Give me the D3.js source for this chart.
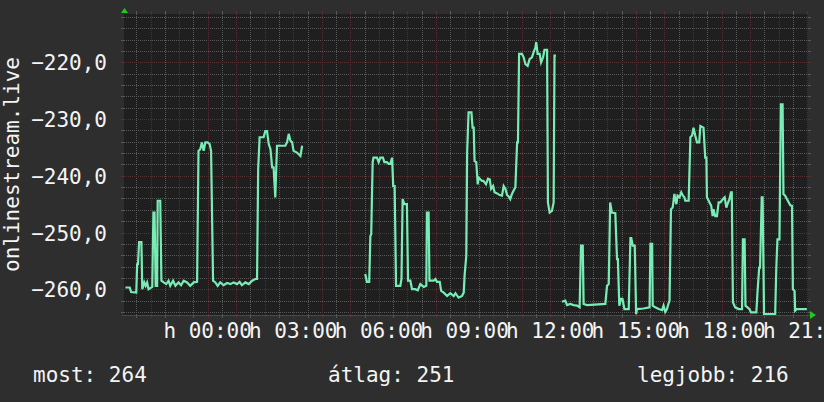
<!DOCTYPE html>
<html>
<head>
<meta charset="utf-8">
<script src="https://cdn.jsdelivr.net/npm/d3@7"></script>
<style>
  html, body { margin: 0; padding: 0; background: #2e2e2e; }
  svg { display: block; }
  text { font-family: "DejaVu Sans Mono", monospace; fill: #f4f4f4; }
</style>
</head>
<body>
<div id="chart"></div>
<script>
"use strict";

// hours relative to midnight (negative = previous day), values as drawn
const seg1 = [
  [-2.88,-259.7],[-2.73,-259.7],[-2.68,-260.5],[-2.50,-260.6],[-2.47,-255.6],[-2.44,-255.6],
  [-2.40,-251.7],[-2.32,-251.7],[-2.29,-260.0],[-2.22,-258.8],[-2.17,-259.4],[-2.12,-258.8],
  [-2.07,-260.0],[-1.94,-259.6],[-1.90,-246.5],[-1.86,-246.5],[-1.82,-259.4],[-1.77,-259.4],
  [-1.75,-244.4],[-1.66,-244.4],[-1.62,-258.5],[-1.54,-258.8],[-1.45,-259.1],[-1.37,-258.5],
  [-1.31,-259.4],[-1.21,-258.5],[-1.13,-259.4],[-1.02,-258.8],[-0.93,-259.3],[-0.84,-258.5],
  [-0.72,-258.8],[-0.61,-259.4],[-0.49,-258.8],[-0.37,-258.7],[-0.32,-235.6],[-0.26,-235.3],
  [-0.20,-234.1],[-0.14,-235.6],[-0.08,-234.1],[0.00,-234.1],[0.07,-234.4],[0.12,-235.6],
  [0.19,-258.5],[0.27,-258.8],[0.35,-259.4],[0.44,-258.8],[0.56,-259.3],[0.68,-258.9],
  [0.80,-259.1],[0.91,-258.8],[1.03,-259.1],[1.12,-258.7],[1.20,-259.3],[1.32,-258.8],
  [1.44,-259.1],[1.56,-258.5],[1.67,-258.2],[1.73,-258.2],[1.77,-238.8],[1.82,-233.2],
  [1.96,-233.2],[2.02,-232.1],[2.08,-232.1],[2.14,-234.4],[2.20,-235.3],[2.26,-238.5],
  [2.31,-238.5],[2.37,-243.8],[2.43,-234.7],[2.72,-234.7],[2.78,-234.1],[2.84,-232.6],
  [2.90,-233.8],[2.96,-234.1],[3.01,-235.6],[3.13,-235.9],[3.25,-236.5],[3.31,-234.7]
];

const seg2 = [
  [5.52,-257.3],[5.58,-258.7],[5.66,-258.7],[5.70,-250.6],[5.73,-250.3],[5.78,-237.6],
  [5.81,-236.8],[5.93,-236.8],[5.99,-237.6],[6.05,-236.8],[6.14,-236.8],[6.19,-237.6],
  [6.28,-237.6],[6.34,-237.9],[6.40,-237.9],[6.46,-236.8],[6.50,-241.8],[6.55,-241.8],
  [6.60,-259.4],[6.75,-259.4],[6.79,-258.2],[6.83,-244.1],[6.89,-245.0],[6.98,-245.0],
  [7.02,-258.5],[7.10,-258.5],[7.16,-260.0],[7.27,-260.0],[7.36,-260.2],[7.45,-259.1],
  [7.57,-259.6],[7.66,-259.4],[7.68,-246.5],[7.74,-246.5],[7.77,-258.5],[7.92,-258.5],
  [7.98,-258.2],[8.03,-258.7],[8.13,-258.7],[8.18,-260.3],[8.27,-260.6],[8.39,-261.2],
  [8.50,-260.7],[8.62,-261.2],[8.68,-260.7],[8.79,-261.5],[8.91,-261.2],[8.97,-260.6],
  [9.00,-257.6],[9.06,-254.1],[9.09,-235.9],[9.14,-228.8],[9.24,-228.8],[9.28,-231.5],
  [9.32,-231.5],[9.35,-237.4],[9.41,-237.6],[9.46,-241.5],[9.49,-240.3],[9.55,-240.6],
  [9.61,-240.9],[9.66,-240.9],[9.75,-241.5],[9.82,-240.5],[9.88,-240.6],[9.93,-242.3],
  [10.00,-241.8],[10.05,-242.9],[10.14,-243.1],[10.23,-243.4],[10.31,-243.5],[10.37,-241.8],
  [10.43,-242.3],[10.49,-243.4],[10.54,-243.6],[10.60,-244.1],[10.66,-243.2],[10.72,-242.6],
  [10.78,-242.0],[10.84,-234.1],[10.87,-234.1],[10.91,-218.5],[11.01,-218.5],[11.07,-219.1],
  [11.13,-220.3],[11.21,-220.6],[11.28,-219.4],[11.36,-219.1],[11.42,-218.2],[11.48,-217.4],
  [11.51,-216.4],[11.56,-218.5],[11.63,-218.5],[11.68,-220.0],[11.75,-219.1],[11.80,-217.8],
  [11.89,-217.8],[11.92,-244.7],[11.98,-246.5],[12.06,-246.2],[12.12,-244.7],[12.15,-218.8],
  [12.20,-218.8]
];

const seg3 = [
  [12.41,-262.2],[12.53,-262.0],[12.59,-262.8],[12.70,-262.6],[12.82,-262.8],[12.94,-262.9],
  [13.03,-263.2],[13.08,-252.3],[13.14,-252.3],[13.17,-262.6],[13.29,-262.8],[13.93,-262.6],
  [13.99,-259.4],[14.05,-259.1],[14.10,-244.7],[14.16,-246.5],[14.28,-246.6],[14.34,-254.7],
  [14.37,-254.7],[14.42,-262.9],[14.48,-261.7],[14.53,-261.7],[14.60,-263.5],[14.75,-263.5],
  [14.81,-251.0],[14.84,-251.0],[14.89,-252.3],[14.96,-252.3],[15.01,-264.4],[15.04,-263.5],
  [15.27,-263.4],[15.48,-263.2],[15.51,-252.0],[15.57,-252.0],[15.59,-262.9],[15.68,-263.2],
  [15.80,-263.5],[15.92,-263.7],[15.97,-262.9],[16.03,-264.0],[16.09,-263.5],[16.14,-262.6],
  [16.18,-262.0],[16.23,-245.9],[16.29,-245.6],[16.35,-243.2],[16.38,-244.1],[16.42,-245.0],
  [16.46,-243.5],[16.53,-243.8],[16.59,-242.9],[16.65,-243.5],[16.70,-243.8],[16.73,-244.4],
  [16.85,-244.4],[16.91,-233.2],[16.97,-232.9],[17.02,-231.5],[17.08,-232.9],[17.14,-234.1],
  [17.22,-234.1],[17.26,-231.2],[17.37,-231.5],[17.43,-236.8],[17.47,-236.8],[17.49,-243.8],
  [17.58,-244.7],[17.64,-245.3],[17.69,-247.1],[17.72,-245.9],[17.78,-247.1],[17.84,-247.1],
  [17.90,-244.7],[17.96,-244.7],[18.05,-244.1],[18.11,-243.8],[18.17,-245.6],[18.23,-244.7],
  [18.28,-244.1],[18.33,-242.9],[18.36,-242.9],[18.40,-262.3],[18.48,-263.2],[18.60,-263.5],
  [18.72,-263.5],[18.75,-251.2],[18.81,-251.2],[18.84,-262.9],[18.91,-263.2],[18.98,-263.5],
  [19.03,-264.1],[19.22,-264.1],[19.26,-260.6],[19.32,-256.2],[19.35,-256.2],[19.41,-243.8],
  [19.44,-243.8],[19.49,-264.4],[19.88,-264.4],[19.92,-256.2],[19.96,-251.2],[20.03,-251.2],
  [20.08,-227.4],[20.14,-227.4],[20.17,-243.2],[20.23,-243.5],[20.29,-244.1],[20.41,-245.2],
  [20.47,-245.3],[20.50,-260.0],[20.56,-260.3],[20.58,-263.8],[20.64,-263.5],[20.99,-263.5]
];

const segments = [seg1, seg2, seg3];

const yTicks = [-260, -250, -240, -230, -220];
const xTickHours = [0, 3, 6, 9, 12, 15, 18, 21];
const xTickLabels = ["h 00:00", "h 03:00", "h 06:00", "h 09:00", "h 12:00", "h 15:00", "h 18:00", "h 21:00"];
const axisTitle = "onlinestream.live";
const legendLabels = ["most:", "átlag:", "legjobb:"];
const legendValues = [264, 251, 216];

const width = 824, height = 402;
const plot = { left: 124, right: 808, top: 14, bottom: 315 };
const fontSize = "21px";

const svg = d3.select("#chart").append("svg")
  .attr("width", width)
  .attr("height", height);

svg.append("rect")
  .attr("width", width)
  .attr("height", height)
  .style("fill", "#2e2e2e");

svg.append("rect")
  .attr("x", plot.left)
  .attr("y", plot.top)
  .attr("width", plot.right - plot.left)
  .attr("height", plot.bottom - plot.top)
  .style("fill", "#1f1f1f");

let xScale = d3.scaleLinear()
  .domain([-2.93, 21.03])
  .range([plot.left, plot.right]);

let yScale = d3.scaleLinear()
  .domain([-264.55, -211.46])
  .range([plot.bottom, plot.top]);

const minorColor = "#585858";
const majorColor = "#553030";

// grid: minor every 2 units / half hour, major every 10 units / hour
let hMinor = d3.range(-264, -211, 2).filter(v => v % 10 !== 0);
let hMajor = d3.range(-260, -211, 10);
let vMinor = d3.range(-2.5, 21.01, 1);
let vMajor = d3.range(-2, 21.01, 1);

let grid = svg.append("g").attr("shape-rendering", "crispEdges");

function hLines(values, color) {
  values.forEach(v => {
    let y = Math.round(yScale(v)) + 0.5;
    grid.append("line")
      .attr("x1", plot.left).attr("x2", plot.right)
      .attr("y1", y).attr("y2", y)
      .style("stroke", color).style("stroke-dasharray", "1,1");
    // small ticks outside the plot
    grid.append("line").attr("x1", plot.left - 3).attr("x2", plot.left).attr("y1", y).attr("y2", y).style("stroke", color);
    grid.append("line").attr("x1", plot.right).attr("x2", plot.right + 3).attr("y1", y).attr("y2", y).style("stroke", color);
  });
}

function vLines(hours, color) {
  hours.forEach(h => {
    let x = Math.round(xScale(h)) + 0.5;
    grid.append("line")
      .attr("x1", x).attr("x2", x)
      .attr("y1", plot.top).attr("y2", plot.bottom)
      .style("stroke", color).style("stroke-dasharray", "1,1");
    grid.append("line").attr("x1", x).attr("x2", x).attr("y1", plot.top - 3).attr("y2", plot.top).style("stroke", color);
    grid.append("line").attr("x1", x).attr("x2", x).attr("y1", plot.bottom).attr("y2", plot.bottom + 3).style("stroke", color);
  });
}

hLines(hMinor, minorColor);
vLines(vMinor, minorColor);
hLines(hMajor, majorColor);
vLines(vMajor, majorColor);

// bottom axis line
grid.append("line")
  .attr("x1", plot.left - 2).attr("x2", plot.right + 2)
  .attr("y1", plot.bottom + 0.5).attr("y2", plot.bottom + 0.5)
  .style("stroke", "#4a4a4a");

// arrows
svg.append("path")
  .attr("d", `M${plot.left - 3},${plot.top - 1}L${plot.left + 4},${plot.top - 1}L${plot.left + 0.5},${plot.top - 6}Z`)
  .style("fill", "#1ecb1e");
svg.append("path")
  .attr("d", `M${plot.right + 2},${plot.bottom - 4}L${plot.right + 2},${plot.bottom + 4}L${plot.right + 8},${plot.bottom}Z`)
  .style("fill", "#1ecb1e");

// data line
let line = d3.line()
  .x(d => xScale(d[0]))
  .y(d => yScale(d[1]));

svg.append("clipPath").attr("id", "plotClip")
  .append("rect")
  .attr("x", plot.left).attr("y", plot.top - 2)
  .attr("width", plot.right - plot.left).attr("height", plot.bottom - plot.top + 2);

svg.append("g")
  .attr("clip-path", "url(#plotClip)")
  .selectAll("path")
  .data(segments)
  .enter().append("path")
  .attr("d", line)
  .style("fill", "none")
  .style("stroke", "#78ecb4")
  .style("stroke-width", 2.2)
  .style("stroke-linejoin", "miter");

// y tick labels
let fmt = d3.format(".1f");
svg.append("g")
  .selectAll("text")
  .data(yTicks)
  .enter().append("text")
  .attr("x", 107)
  .attr("y", d => yScale(d) + 8)
  .attr("text-anchor", "end")
  .style("font-size", fontSize)
  .text(d => fmt(d).replace(".", ","));

// x tick labels
svg.append("g")
  .selectAll("text")
  .data(xTickHours)
  .enter().append("text")
  .attr("x", d => xScale(d))
  .attr("y", 338)
  .attr("text-anchor", "middle")
  .style("font-size", fontSize)
  .text((d, i) => xTickLabels[i]);

// axis title
svg.append("text")
  .attr("transform", `translate(19,${(plot.top + plot.bottom) / 2}) rotate(-90)`)
  .attr("text-anchor", "middle")
  .style("font-size", fontSize)
  .text(axisTitle);

// legend
const legendX = [33, 328, 637];
svg.append("g")
  .selectAll("text")
  .data(legendLabels)
  .enter().append("text")
  .attr("x", (d, i) => legendX[i])
  .attr("y", 382)
  .style("font-size", fontSize)
  .text((d, i) => d + " " + legendValues[i]);
</script>
</body>
</html>
